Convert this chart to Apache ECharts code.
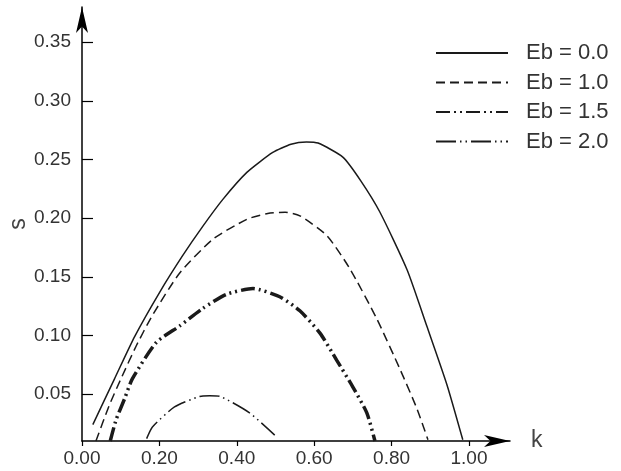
<!DOCTYPE html>
<html>
<head>
<meta charset="utf-8">
<script src="https://cdn.jsdelivr.net/npm/echarts@6/dist/echarts.min.js"></script>
<style>
html,body{margin:0;padding:0;background:#fff;}
#chart{width:621px;height:471px;}
</style>
</head>
<body>
<div id="chart"></div>
<script>
// Data: [k, s]
var eb00 = [[0.028,0.024],[0.084,0.063],[0.136,0.099],[0.201,0.137],[0.260,0.168],[0.312,0.193],[0.364,0.216],[0.426,0.239],[0.493,0.256],[0.540,0.263],[0.580,0.265],[0.610,0.264],[0.674,0.252],[0.720,0.232],[0.770,0.205],[0.840,0.156],[0.891,0.108],[0.943,0.058],[0.984,0.011]];
var eb10 = [[0.036,0.010],[0.070,0.040],[0.102,0.064],[0.140,0.091],[0.180,0.116],[0.252,0.153],[0.338,0.182],[0.426,0.199],[0.480,0.204],[0.525,0.205],[0.563,0.202],[0.633,0.185],[0.692,0.157],[0.762,0.114],[0.822,0.071],[0.865,0.038],[0.894,0.011]];
var eb15 = [[0.073,0.010],[0.088,0.028],[0.110,0.046],[0.130,0.063],[0.192,0.094],[0.252,0.108],[0.312,0.123],[0.373,0.135],[0.442,0.140],[0.511,0.133],[0.563,0.121],[0.615,0.102],[0.658,0.079],[0.700,0.056],[0.736,0.034],[0.757,0.010]];
var eb20 = [[0.167,0.012],[0.182,0.022],[0.239,0.039],[0.304,0.048],[0.330,0.0485],[0.356,0.048],[0.433,0.034],[0.498,0.015]];
var seriesNames = ['Eb = 0.0','Eb = 1.0','Eb = 1.5','Eb = 2.0'];
var xTicks = [0, 0.2, 0.4, 0.6, 0.8, 1.0];
var yTicks = [0.05, 0.10, 0.15, 0.20, 0.25, 0.30, 0.35];

var chart = echarts.init(document.getElementById('chart'), null, {renderer:'canvas'});
var font = 'Liberation Sans, Arial, sans-serif';
var lineColor = '#1a1a1a';
function mk(name, data, width, dash){
  return {
    name: name, type: 'line', data: data, showSymbol: false, symbol: 'none',
    smooth: 0.2, clip: true,
    lineStyle: {color: lineColor, width: width, type: dash},
    itemStyle: {color: lineColor},
    emphasis: {disabled: true}
  };
}
chart.setOption({
  animation: false,
  backgroundColor: '#fff',
  grid: {left: 82, top: 7, width: 428, height: 434, containLabel: false, outerBoundsMode: 'none'},
  legend: {
    orient: 'vertical', left: 435, top: 42, padding: 0,
    itemWidth: 72, itemHeight: 14, itemGap: 7.5,
    data: seriesNames,
    itemStyle: {opacity: 0},
    textStyle: {fontFamily: font, fontSize: 22, color: '#333', lineHeight: 22, padding: [0,0,0,13]},
    selectedMode: false
  },
  xAxis: {
    type: 'value', min: 0, max: 1.106,
    name: 'k', nameLocation: 'end', nameGap: 21,
    nameTextStyle: {fontFamily: font, fontSize: 23, color: '#444', verticalAlign: 'middle'},
    axisLine: {show: true, onZero: false, symbol: ['none','arrow'], symbolSize: [9, 26], lineStyle: {color: '#000', width: 1.5}},
    axisTick: {show: true, inside: false, length: 5, customValues: xTicks, lineStyle: {color: '#000', width: 1.2}},
    axisLabel: {customValues: xTicks, margin: 8, fontFamily: font, fontSize: 19, color: '#333',
      formatter: function(v){ return v.toFixed(2); }},
    splitLine: {show: false}
  },
  yAxis: {
    type: 'value', min: 0.01, max: 0.38,
    name: 's', nameLocation: 'middle', nameGap: 52, nameMoveOverlap: false,
    nameTextStyle: {fontFamily: font, fontSize: 23, color: '#444'},
    axisLine: {show: true, onZero: false, symbol: ['none','arrow'], symbolSize: [9, 26], lineStyle: {color: '#000', width: 1.5}},
    axisTick: {show: true, inside: true, length: 11, customValues: yTicks, lineStyle: {color: '#000', width: 1.2}},
    axisLabel: {customValues: yTicks, margin: 11, fontFamily: font, fontSize: 19, color: '#333',
      formatter: function(v){ return v.toFixed(2); }},
    splitLine: {show: false}
  },
  series: [
    mk(seriesNames[0], eb00, 1.5, 'solid'),
    mk(seriesNames[1], eb10, 1.5, [9, 5]),
    mk(seriesNames[2], eb15, 3.5, [14, 4, 2, 4, 2, 4]),
    mk(seriesNames[3], eb20, 1.5, [20, 4, 1.5, 4, 1.5, 4])
  ]
});
</script>
</body>
</html>
